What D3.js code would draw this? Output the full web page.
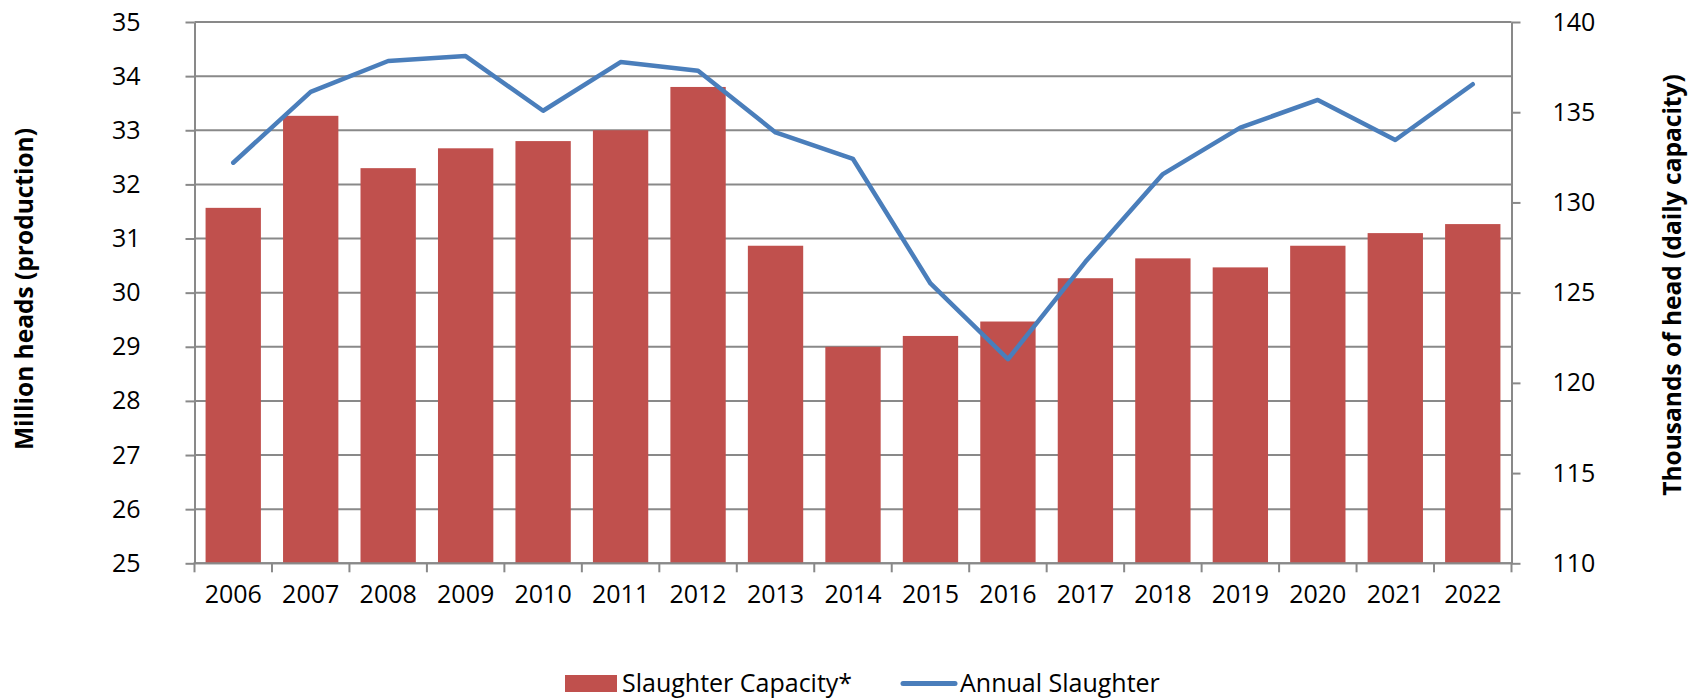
<!DOCTYPE html>
<html>
<head>
<meta charset="utf-8">
<script src="https://cdn.jsdelivr.net/npm/d3@7"></script>
<style>
  html, body { margin: 0; padding: 0; background: #ffffff; }
  svg { display: block; font-family: "Open Sans", "Noto Sans", sans-serif; }
</style>
</head>
<body>
<svg id="chart" width="1696" height="699"></svg>
<script>
// Years on the category axis
const years = ["2006","2007","2008","2009","2010","2011","2012","2013","2014",
               "2015","2016","2017","2018","2019","2020","2021","2022"];

// Daily slaughter capacity, thousands of head (right axis, bars)
const capacity = [129.7, 134.8, 131.9, 133.0, 133.4, 134.0, 136.4, 127.6, 122.0,
                  122.6, 123.4, 125.8, 126.9, 126.4, 127.6, 128.3, 128.8];

// Annual slaughter, million heads (left axis, line)
const annual = [32.40, 33.71, 34.28, 34.37, 33.36, 34.26, 34.10, 32.96, 32.47,
                30.17, 28.77, 30.57, 32.19, 33.05, 33.56, 32.82, 33.85];

// Axis tick values
const leftTicks = [25, 26, 27, 28, 29, 30, 31, 32, 33, 34, 35];
const rightTicks = [110, 115, 120, 125, 130, 135, 140];

const seriesNames = ["Slaughter Capacity*", "Annual Slaughter"];
const axisTitles = ["Million heads (production)", "Thousands of head (daily capacity)"];

const barColor = "#C0504D";
const lineColor = "#4A7EBB";
const gridColor = "#898989";

const svg = d3.select("#chart");

const plot = { left: 194.5, right: 1511.5, top: 22, bottom: 563.3 };

const x = d3.scaleBand()
  .domain(years)
  .range([plot.left, plot.right])
  .paddingInner(0.4 / 1.4)
  .paddingOuter(0.2 / 1.4);

const yLeft = d3.scaleLinear().domain([25, 35]).range([plot.bottom, plot.top]);
const yRight = d3.scaleLinear().domain([110, 140]).range([plot.bottom, plot.top]);

// Horizontal gridlines on the left-axis ticks
svg.append("g")
  .selectAll("line")
  .data(leftTicks)
  .join("line")
  .attr("x1", plot.left)
  .attr("x2", plot.right)
  .attr("y1", d => yLeft(d))
  .attr("y2", d => yLeft(d))
  .attr("stroke", gridColor)
  .attr("stroke-width", 2);

// Capacity bars
svg.append("g")
  .selectAll("rect")
  .data(years.map((y, i) => ({ year: y, v: capacity[i] })))
  .join("rect")
  .attr("x", d => x(d.year))
  .attr("width", x.bandwidth())
  .attr("y", d => yRight(d.v))
  .attr("height", d => yRight(110) - yRight(d.v))
  .attr("fill", barColor);

// Left axis
const gLeft = svg.append("g")
  .attr("transform", `translate(${plot.left},0)`)
  .call(d3.axisLeft(yLeft).tickValues(leftTicks).tickSize(9).tickPadding(45).tickSizeOuter(0));

// Right axis
const gRight = svg.append("g")
  .attr("transform", `translate(${plot.right},0)`)
  .call(d3.axisRight(yRight).tickValues(rightTicks).tickSize(9).tickPadding(32).tickSizeOuter(0));

[gLeft, gRight].forEach(g => {
  g.select(".domain").attr("stroke", gridColor).attr("stroke-width", 2);
  g.selectAll(".tick line").attr("stroke", gridColor).attr("stroke-width", 2);
  g.selectAll(".tick text")
    .attr("fill", "#000")
    .style("font-family", "'Open Sans', sans-serif")
    .style("font-size", "25px");
});

// Bottom axis: labels centred on bands, tick marks on band boundaries
const gBottom = svg.append("g")
  .attr("transform", `translate(0,${plot.bottom})`)
  .call(d3.axisBottom(x).tickSize(0).tickPadding(22).tickSizeOuter(0));
gBottom.select(".domain").remove();
gBottom.selectAll(".tick text")
  .attr("fill", "#000")
  .style("font-family", "'Open Sans', sans-serif")
  .style("font-size", "25px");

svg.append("line")
  .attr("x1", plot.left - 1)
  .attr("x2", plot.right + 1)
  .attr("y1", plot.bottom)
  .attr("y2", plot.bottom)
  .attr("stroke", gridColor)
  .attr("stroke-width", 2);

const boundaries = d3.range(years.length + 1).map(i => plot.left + i * x.step());
svg.append("g")
  .selectAll("line")
  .data(boundaries)
  .join("line")
  .attr("x1", d => d)
  .attr("x2", d => d)
  .attr("y1", plot.bottom)
  .attr("y2", plot.bottom + 9)
  .attr("stroke", gridColor)
  .attr("stroke-width", 2);

// Annual slaughter line
const line = d3.line()
  .x((d, i) => x(years[i]) + x.bandwidth() / 2)
  .y(d => yLeft(d));

svg.append("path")
  .datum(annual)
  .attr("d", line)
  .attr("fill", "none")
  .attr("stroke", lineColor)
  .attr("stroke-width", 4.5)
  .attr("stroke-linejoin", "round")
  .attr("stroke-linecap", "round");

// Axis titles
svg.append("text")
  .attr("transform", "translate(33,289) rotate(-90)")
  .attr("text-anchor", "middle")
  .style("font-family", "'Open Sans', sans-serif")
  .style("font-weight", "bold")
  .style("font-size", "24.5px")
  .attr("fill", "#000")
  .text(axisTitles[0]);

svg.append("text")
  .attr("transform", "translate(1681,285) rotate(-90)")
  .attr("text-anchor", "middle")
  .style("font-family", "'Open Sans', sans-serif")
  .style("font-weight", "bold")
  .style("font-size", "24.5px")
  .attr("fill", "#000")
  .text(axisTitles[1]);

// Legend
const legend = svg.append("g").style("font-family", "'Open Sans', sans-serif").style("font-size", "25px");
legend.append("rect")
  .attr("x", 565).attr("y", 675).attr("width", 52).attr("height", 17)
  .attr("fill", barColor);
legend.append("text")
  .attr("x", 622).attr("y", 692).attr("fill", "#000")
  .text(seriesNames[0]);
legend.append("line")
  .attr("x1", 903).attr("x2", 955).attr("y1", 683.5).attr("y2", 683.5)
  .attr("stroke", lineColor).attr("stroke-width", 5).attr("stroke-linecap", "round");
legend.append("text")
  .attr("x", 960).attr("y", 692).attr("fill", "#000")
  .text(seriesNames[1]);
</script>
</body>
</html>
